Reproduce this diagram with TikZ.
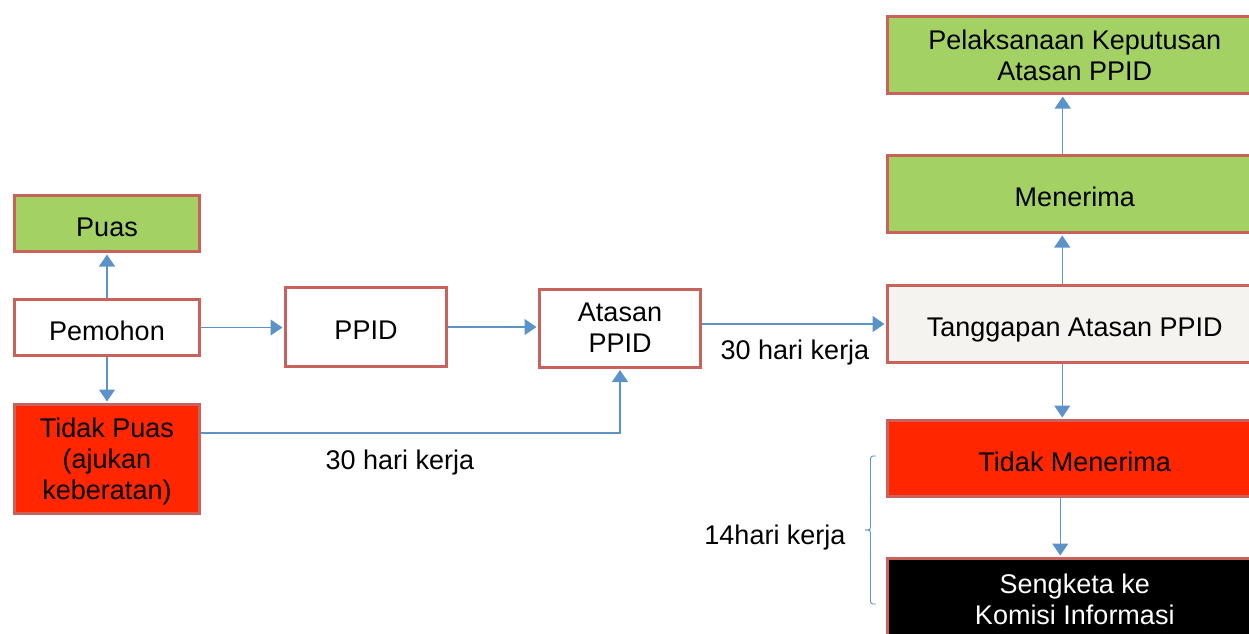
\documentclass[tikz,border=0pt]{standalone}
\usepackage{fontspec}
\setmainfont{Liberation Sans}
\usetikzlibrary{arrows.meta}
\definecolor{boxedge}{HTML}{C8625B}
\definecolor{okgreen}{HTML}{A3D164}
\definecolor{alertred}{HTML}{FF2600}
\definecolor{paper}{HTML}{F5F3EF}
\definecolor{flow}{HTML}{5B93C9}
\begin{document}
\begin{tikzpicture}[x=1pt,y=-1pt,
  font=\fontsize{27}{31}\selectfont,
  box/.style={draw=boxedge, line width=3pt, align=center, inner sep=0pt},
  oneline/.style={text height=25pt, text depth=0pt},
  multiline/.style={text depth=-3pt},
  arr/.style={draw=flow, line width=1.2pt, shorten >=1.5pt,
              -{Triangle[length=12pt,width=16pt]}},
  note/.style={inner sep=0pt}]
\useasboundingbox (0,0) rectangle (1249,633);
\clip (0,0) rectangle (1249,633);

% left column
\node[box, oneline, fill=okgreen, minimum width=185pt, minimum height=56pt] (puas) at (107,223.5) {Puas};
\node[box, oneline, fill=white, minimum width=185pt, minimum height=56pt] (pemohon) at (107,327.5) {Pemohon};
\node[box, fill=alertred, text depth=-2.5pt, minimum width=185pt, minimum height=109pt] (tidakpuas) at (107,459) {Tidak Puas\\(ajukan\\keberatan)};

% middle
\node[box, oneline, fill=white, minimum width=161pt, minimum height=79pt] (ppid) at (366,327) {PPID};
\node[box, multiline, fill=white, minimum width=161pt, minimum height=78pt] (atasan) at (620,328) {Atasan\\PPID};

% right column
\node[box, multiline, fill=okgreen, minimum width=374.5pt, minimum height=77pt] (pelaksanaan) at (1074.75,55) {Pelaksanaan Keputusan\\Atasan PPID};
\node[box, oneline, fill=okgreen, minimum width=374.5pt, minimum height=77pt] (menerima) at (1074.75,194) {Menerima};
\node[box, oneline, fill=paper, minimum width=374.5pt, minimum height=77pt] (tanggapan) at (1074.75,324) {Tanggapan Atasan PPID};
\node[box, oneline, fill=alertred, minimum width=374.5pt, minimum height=76pt] (tidakmenerima) at (1074.75,458.5) {Tidak Menerima};
\node[box, fill=black, text=white, minimum width=374.5pt, minimum height=81pt] (sengketa) at (1074.75,599) {Sengketa ke\\Komisi Informasi};

% labels
\node[note] (lbl30a) at (795,353) {30 hari kerja};
\node[note] (lbl30b) at (400,463) {30 hari kerja};
\node[note] (lbl14) at (775,538) {14hari kerja};

% connectors
\draw[arr] (pemohon.north) -- (puas.south);
\draw[arr] (pemohon.south) -- (tidakpuas.north);
\draw[arr] (pemohon.east) -- (pemohon.east -| ppid.west);
\draw[arr] (ppid.east) -- (ppid.east -| atasan.west);
\draw[arr] (atasan.east |- tanggapan.west) -- (tanggapan.west);
\draw[arr] ([yshift=26pt]tidakpuas.east) -| (atasan.south);
\draw[arr] ([xshift=-12.5pt]tanggapan.north) -- ([xshift=-12.5pt]menerima.south);
\draw[arr] ([xshift=-12pt]menerima.north) -- ([xshift=-12pt]pelaksanaan.south);
\draw[arr] ([xshift=-12.5pt]tanggapan.south) -- ([xshift=-12.5pt]tidakmenerima.north);
\draw[arr] ([xshift=-14.5pt]tidakmenerima.south) -- ([xshift=-14.5pt]sengketa.north);

% brace spanning the last two steps
\coordinate (btop) at (876,456);
\coordinate (bbot) at (876,604);
\coordinate (bmid) at (865,530);
\draw[flow, line width=0.9pt, rounded corners=2.5pt]
  (btop) -- (870.5,456) -- (870.5,530) -- (bmid);
\draw[flow, line width=0.9pt, rounded corners=2.5pt]
  (bmid) -- (870.5,530) -- (870.5,604) -- (bbot);
\end{tikzpicture}
\end{document}
